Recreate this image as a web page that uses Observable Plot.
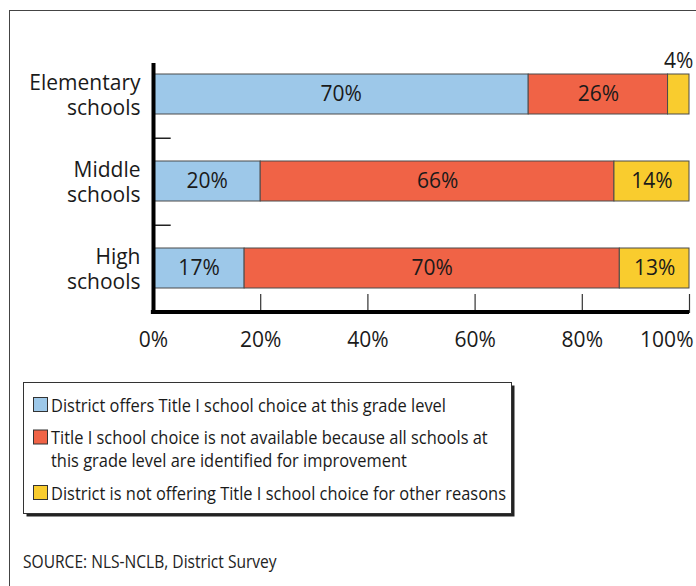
<!DOCTYPE html>
<html><head><meta charset="utf-8">
<script src="https://cdn.jsdelivr.net/npm/d3@7"></script>
<script src="https://cdn.jsdelivr.net/npm/@observablehq/plot@0.6"></script>
<style>
html,body{margin:0;padding:0;width:696px;height:586px;overflow:hidden;background:#fff;}
#frame{position:absolute;left:9px;top:10px;width:800px;height:700px;border:1.5px solid #444;}
#chart{position:absolute;left:0;top:0;}
#legend{position:absolute;left:0;top:370px;}
</style></head>
<body>
<div id="frame"></div>
<div id="chart"></div>
<div id="legend"></div>
<script>
const categories = ["Elementary schools", "Middle schools", "High schools"];
const seriesNames = [
  "District offers Title I school choice at this grade level",
  "Title I school choice is not available because all schools at this grade level are identified for improvement",
  "District is not offering Title I school choice for other reasons"
];
const legendLines = [
  ["District offers Title I school choice at this grade level"],
  ["Title I school choice is not available because all schools at", "this grade level are identified for improvement"],
  ["District is not offering Title I school choice for other reasons"]
];
const sourceText = "SOURCE: NLS-NCLB, District Survey";
const offersChoice = [70, 20, 17];
const notAvailable = [26, 66, 70];
const otherReasons = [4, 14, 13];
const xTicks = [0, 20, 40, 60, 80, 100];
const colors = ["#9dc8e9", "#f06346", "#f9cc2e"];

const seriesValues = [offersChoice, notAvailable, otherReasons];
const data = [];
categories.forEach((c, i) => seriesNames.forEach((s, j) => data.push({cat: c, series: s, value: seriesValues[j][i]})));

const W = 696, H = 350, mT = 63, mB = 37, mL = 153, mR = 7;
const yOpts = {paddingInner: 0.543, paddingOuter: 0.2, align: 0.314};
const band = d3.scaleBand().domain(categories).range([mT, H - mB])
  .paddingInner(yOpts.paddingInner).paddingOuter(yOpts.paddingOuter).align(yOpts.align);
const step = band.step();
const lastCenter = band(categories[2]) + band.bandwidth() / 2;
const axisDy = (H - mB - 0.5) - lastCenter;

const small = d => d.value < 5;
const font = "'Open Sans', sans-serif";
const fs = 21;

const chart = Plot.plot({
  width: W, height: H,
  marginTop: mT, marginBottom: mB, marginLeft: mL, marginRight: mR,
  style: {fontFamily: font, fontSize: fs + "px", color: "#1a1a1a", background: "transparent", overflow: "visible"},
  x: {domain: [0, 100], ticks: xTicks},
  y: {domain: categories, ...yOpts},
  color: {domain: seriesNames, range: colors},
  marks: [
    Plot.barX(data, Plot.stackX({x: "value", y: "cat", fill: "series", stroke: "#4a4a4a", strokeWidth: 1, order: seriesNames})),
    Plot.text(data.filter(d => !small(d)), Plot.stackX({x: "value", y: "cat", z: "series", text: d => d.value + "%", order: seriesNames, fontSize: fs, fill: "#1a1a1a"})),
    Plot.text(data, Plot.stackX({x: "value", y: "cat", z: "series", text: d => small(d) ? d.value + "%" : "", order: seriesNames, fontSize: fs, fill: "#1a1a1a", dy: -33})),
    Plot.ruleY(categories.slice(0, 2), {x1: 0, x2: 3.3, dy: step / 2, stroke: "#222", strokeWidth: 1.5}),
    Plot.ruleX(xTicks.slice(1), {insetTop: 250 - 19, stroke: "#333", strokeWidth: 1.2}),
    Plot.ruleY(categories.slice(2), {x1: -0.4, x2: 100, dy: axisDy, stroke: "#000", strokeWidth: 4}),
    Plot.ruleX([0], {stroke: "#000", strokeWidth: 4}),
    Plot.axisX({ticks: xTicks.slice(0, -1), tickSize: 0, tickPadding: 19, tickFormat: d => d + "%", fontSize: fs, label: null}),
    Plot.axisX({ticks: xTicks.slice(-1), tickSize: 0, tickPadding: 19, tickFormat: d => d + "%", fontSize: fs, textAnchor: "end", dx: 4, label: null}),
    Plot.axisY({tickSize: 0, tickPadding: 13, tickFormat: d => d.replace(" ", "\n"), fontSize: fs, lineHeight: 1.2, label: null})
  ]
});
document.getElementById("chart").appendChild(chart);

// Legend + source (SVG below the chart, condensed face emulated with a horizontal scale)
const kLegend = 0.865, kSource = 0.82, lfs = 19;
const svg = d3.select("#legend").append("svg").attr("width", W).attr("height", 216)
  .style("font-family", font).style("font-size", lfs + "px").style("fill", "#1a1a1a");
const box = {x: 23.5, y: 12.5, w: 488, h: 131};
svg.append("rect").attr("x", box.x + 3).attr("y", box.y + 3).attr("width", box.w).attr("height", box.h).attr("fill", "#222");
svg.append("rect").attr("x", box.x).attr("y", box.y).attr("width", box.w).attr("height", box.h).attr("fill", "#fff").attr("stroke", "#333").attr("stroke-width", 1);
let yc = 35; // center of first line (relative to legend svg)
legendLines.forEach((lines, i) => {
  svg.append("rect").attr("x", 33.5).attr("y", yc - 7.5).attr("width", 14).attr("height", 14)
    .attr("fill", colors[i]).attr("stroke", "#333").attr("stroke-width", 1);
  lines.forEach((l, j) => {
    svg.append("text").attr("transform", `translate(51,${yc + j * 23}) scale(${kLegend},1)`)
      .attr("dy", "0.35em").text(l);
  });
  yc += (lines.length - 1) * 23 + 32.5;
});
svg.append("text").attr("transform", `translate(23,191) scale(${kSource},1)`).attr("dy", "0.35em")
  .style("fill", "#222").text(sourceText);
</script>
</body></html>
